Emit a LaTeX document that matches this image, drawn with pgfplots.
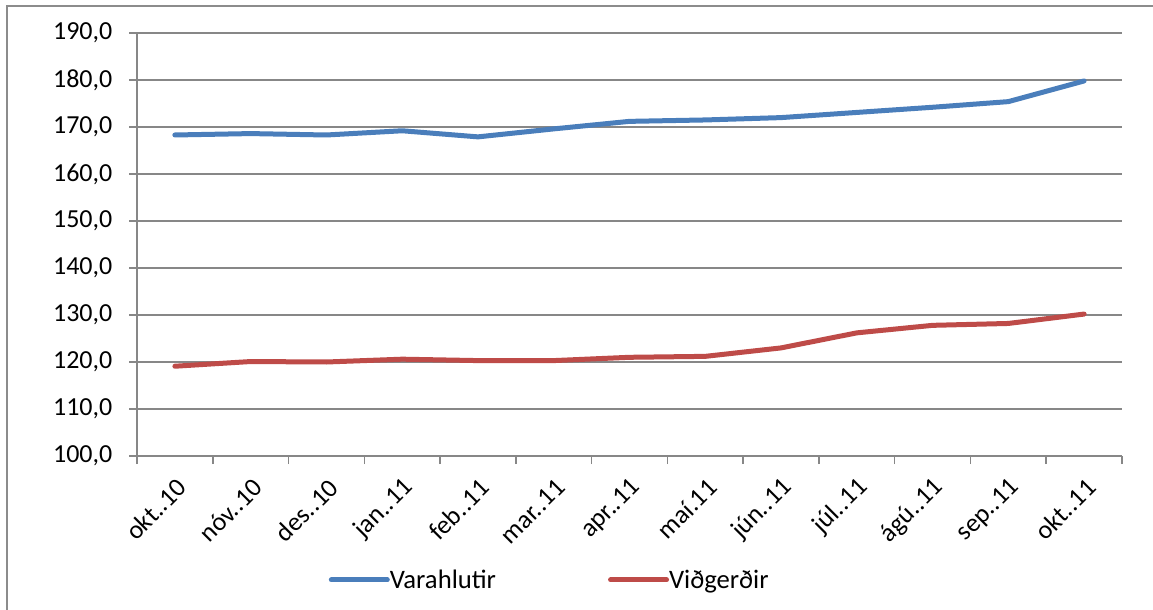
\documentclass[border=0pt]{standalone}
\usepackage{pgfplots}
\pgfplotsset{compat=1.18}
\usepackage{fontspec}
\setmainfont{Carlito}
\definecolor{blueS}{HTML}{4A7EBB}
\definecolor{redS}{HTML}{BE4B48}
\definecolor{gridc}{HTML}{878787}
\definecolor{borderc}{HTML}{8C8C8C}
\begin{document}
\begin{tikzpicture}
\useasboundingbox (-102.75pt,-115.5pt) rectangle (762pt,342pt);
\draw[borderc, line width=1.3pt] (-97.5pt,-115.5pt) -- (-97.5pt,337.5pt) -- (762pt,337.5pt);
\begin{axis}[
  at={(0,0)}, anchor=south west,
  scale only axis, width=738.75pt, height=317.25pt,
  xmin=-0.5, xmax=12.5, ymin=100, ymax=190,
  ytick={100,110,...,190},
  xtick={0,...,12},
  xticklabels={okt..10, nóv..10, des..10, jan..11, feb..11, mar..11, apr..11, maí.11, jún..11, júl..11, ágú..11, sep..11, okt..11},
  minor xtick={-0.5,0.5,...,12.5},
  axis lines*=left,
  axis line style={gridc, line width=1.2pt},
  ymajorgrids, grid style={gridc, line width=1.2pt},
  tick align=outside,
  major tick length=6pt, minor tick length=6pt,
  tick style={gridc, line width=1.2pt},
  major x tick style={draw=none},
  /pgf/number format/assume math mode=true,
  yticklabel style={/pgf/number format/.cd, fixed, fixed zerofill, precision=1, use comma, /tikz/.cd, xshift=-9pt},
  ticklabel style={font=\fontsize{19.5}{22}\selectfont},
  xticklabel style={rotate=45, anchor=east, yshift=-14pt, xshift=-3pt},
  legend style={at={(0.418,-0.293)}, anchor=center, draw=none, fill=none,
    legend columns=2, font=\fontsize{20}{23}\selectfont,
    /tikz/every even column/.append style={column sep=84pt},
    nodes={inner xsep=0pt}},
  legend image code/.code={\draw[#1, line width=3.75pt, line cap=round] (0pt,0pt) -- (42pt,0pt);},
  clip=false,
]
\addplot[blueS, line width=3.75pt, line join=round, line cap=round] coordinates {
(0,168.3) (1,168.6) (2,168.3) (3,169.2) (4,167.9) (5,169.6) (6,171.2) (7,171.5) (8,172.0) (9,173.1) (10,174.2) (11,175.4) (12,179.8)};
\addlegendentry{Varahlutir}
\addplot[redS, line width=3.75pt, line join=round, line cap=round] coordinates {
(0,119.1) (1,120.1) (2,120.0) (3,120.6) (4,120.3) (5,120.3) (6,121.0) (7,121.2) (8,123.0) (9,126.2) (10,127.8) (11,128.2) (12,130.2)};
\addlegendentry{Viðgerðir}
\end{axis}
\end{tikzpicture}
\end{document}
